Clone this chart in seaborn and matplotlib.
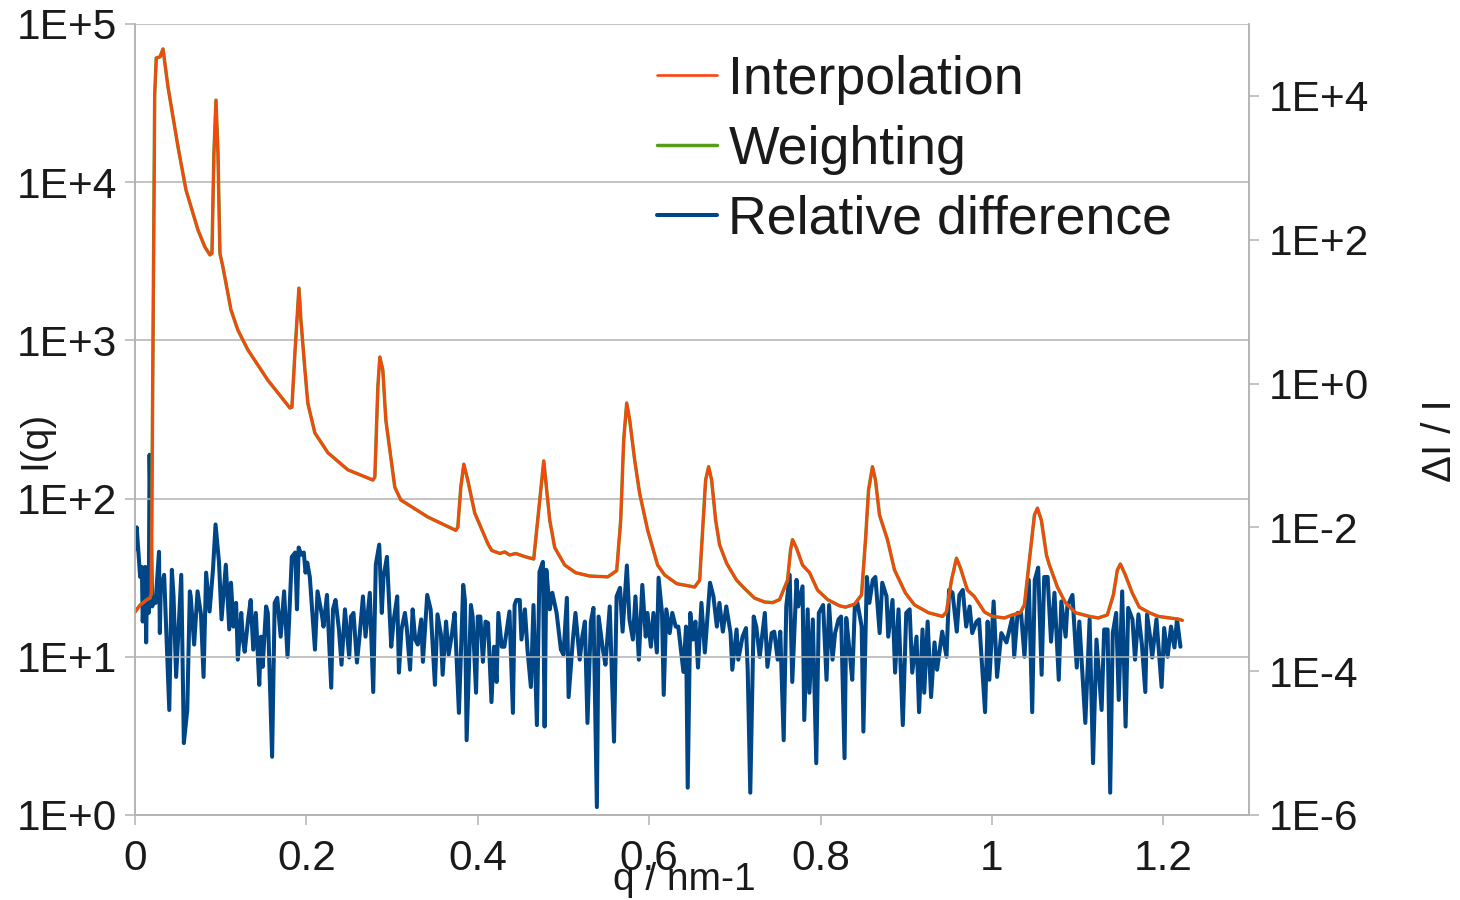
import numpy as np
import matplotlib
matplotlib.use("Agg")
import matplotlib.pyplot as plt
import seaborn as sns
from matplotlib.ticker import FixedLocator, FuncFormatter, NullLocator

sns.set_theme(style="white")
plt.rcParams['font.family'] = ['Liberation Sans', 'DejaVu Sans']

# ---------------- data ----------------
q_curve = [0.0000, 0.0058, 0.0140, 0.0175, 0.0190, 0.0212, 0.0230, 0.0248, 0.0292, 0.0327,
           0.0385, 0.0502, 0.0595, 0.0735, 0.0816, 0.0875, 0.0898, 0.0921, 0.0945, 0.0968,
           0.0991, 0.1026, 0.1120, 0.1201, 0.1318, 0.1551, 0.1808, 0.1831, 0.1866, 0.1913,
           0.1936, 0.1983, 0.2017, 0.2099, 0.2251, 0.2484, 0.2776, 0.2799, 0.2834, 0.2857,
           0.2892, 0.2927, 0.3032, 0.3102, 0.3417, 0.3743, 0.3767, 0.3802, 0.3837, 0.3883,
           0.3965, 0.4117, 0.4163, 0.4257, 0.4315, 0.4373, 0.4443, 0.4548, 0.4653, 0.4723,
           0.4770, 0.4805, 0.4840, 0.4898, 0.5015, 0.5143, 0.5306, 0.5516, 0.5621, 0.5668,
           0.5703, 0.5738, 0.5773, 0.5831, 0.5889, 0.5983, 0.6099, 0.6181, 0.6321, 0.6531,
           0.6589, 0.6624, 0.6659, 0.6694, 0.6729, 0.6776, 0.6822, 0.6904, 0.7020, 0.7114,
           0.7230, 0.7347, 0.7440, 0.7522, 0.7615, 0.7650, 0.7673, 0.7720, 0.7790, 0.7872,
           0.7965, 0.8082, 0.8222, 0.8292, 0.8397, 0.8478, 0.8525, 0.8560, 0.8606, 0.8641,
           0.8688, 0.8781, 0.8863, 0.8991, 0.9096, 0.9259, 0.9423, 0.9469, 0.9528, 0.9586,
           0.9633, 0.9714, 0.9796, 0.9913, 1.0006, 1.0146, 1.0239, 1.0332, 1.0379, 1.0437,
           1.0496, 1.0531, 1.0577, 1.0636, 1.0671, 1.0764, 1.0857, 1.0974, 1.1137, 1.1242,
           1.1347, 1.1417, 1.1464, 1.1499, 1.1557, 1.1638, 1.1720, 1.1837, 1.1942, 1.2070,
           1.2175, 1.2222]

I_interpolation = [19.2, 21.2, 23, 23.5, 25, 1400, 36000, 61000, 62000, 69500,
                   40000, 16700, 8930, 4990, 3890, 3470, 3550, 15300, 33000, 15300,
                   3550, 2910, 1560, 1160, 870, 560, 374, 378, 830, 2140,
                   1345, 650, 400, 260, 195, 152, 131, 137, 508, 785,
                   650, 314, 118, 98, 76.5, 63, 66, 118, 165, 131,
                   81, 52, 47, 45, 46, 44, 45, 43, 41.5, 98,
                   173, 113, 73, 49, 38, 34, 32.4, 32, 35, 73,
                   235, 402, 314, 175, 108, 63, 38, 32.9, 29, 27.6,
                   30.5, 63, 131, 159, 131, 73, 51, 39, 30.5, 27,
                   23.5, 22.2, 22, 23, 30.5, 47.3, 55, 48.6, 38, 34,
                   26.4, 23, 21, 20.6, 21.5, 24.6, 55, 113, 159, 131,
                   78.7, 55, 35.4, 25.3, 21.3, 19, 18, 19.2, 30.5, 42,
                   36.4, 26.4, 24, 19.2, 18, 17.6, 18.4, 19, 21.3, 40.9,
                   78.7, 87, 73, 44, 38, 27.6, 22, 19, 18, 17.6,
                   18.4, 24.6, 35.4, 38.6, 32.9, 25.3, 20.6, 19, 18, 17.6,
                   17.3, 17.0]

# Weighting is visually indistinguishable from Interpolation in the reference
I_weighting = [19.2, 21.2, 23, 23.5, 25, 1400, 36000, 61000, 62000, 69500,
               40000, 16700, 8930, 4990, 3890, 3470, 3550, 15300, 33000, 15300,
               3550, 2910, 1560, 1160, 870, 560, 374, 378, 830, 2140,
               1345, 650, 400, 260, 195, 152, 131, 137, 508, 785,
               650, 314, 118, 98, 76.5, 63, 66, 118, 165, 131,
               81, 52, 47, 45, 46, 44, 45, 43, 41.5, 98,
               173, 113, 73, 49, 38, 34, 32.4, 32, 35, 73,
               235, 402, 314, 175, 108, 63, 38, 32.9, 29, 27.6,
               30.5, 63, 131, 159, 131, 73, 51, 39, 30.5, 27,
               23.5, 22.2, 22, 23, 30.5, 47.3, 55, 48.6, 38, 34,
               26.4, 23, 21, 20.6, 21.5, 24.6, 55, 113, 159, 131,
               78.7, 55, 35.4, 25.3, 21.3, 19, 18, 19.2, 30.5, 42,
               36.4, 26.4, 24, 19.2, 18, 17.6, 18.4, 19, 21.3, 40.9,
               78.7, 87, 73, 44, 38, 27.6, 22, 19, 18, 17.6,
               18.4, 24.6, 35.4, 38.6, 32.9, 25.3, 20.6, 19, 18, 17.6,
               17.3, 17.0]

q_rel = [0.000, 0.002, 0.006, 0.008, 0.009, 0.012, 0.013, 0.014, 0.016, 0.017,
         0.020, 0.023, 0.024, 0.028, 0.029, 0.030, 0.034, 0.040, 0.043, 0.045,
         0.048, 0.054, 0.057, 0.061, 0.064, 0.065, 0.069, 0.073, 0.077, 0.080,
         0.083, 0.087, 0.091, 0.094, 0.098, 0.101, 0.106, 0.110, 0.112, 0.115,
         0.118, 0.120, 0.124, 0.126, 0.128, 0.132, 0.135, 0.138, 0.141, 0.145,
         0.147, 0.149, 0.153, 0.155, 0.160, 0.163, 0.166, 0.170, 0.174, 0.178,
         0.183, 0.187, 0.189, 0.191, 0.194, 0.197, 0.199, 0.201, 0.204, 0.210,
         0.213, 0.218, 0.220, 0.224, 0.229, 0.231, 0.234, 0.238, 0.241, 0.245,
         0.250, 0.252, 0.255, 0.259, 0.262, 0.266, 0.269, 0.274, 0.278, 0.281,
         0.285, 0.288, 0.290, 0.294, 0.299, 0.302, 0.306, 0.308, 0.311, 0.315,
         0.317, 0.321, 0.324, 0.327, 0.330, 0.334, 0.336, 0.341, 0.345, 0.350,
         0.353, 0.357, 0.359, 0.363, 0.366, 0.370, 0.373, 0.378, 0.383, 0.385,
         0.387, 0.392, 0.394, 0.398, 0.400, 0.403, 0.406, 0.409, 0.412, 0.416,
         0.419, 0.422, 0.424, 0.428, 0.431, 0.437, 0.441, 0.443, 0.445, 0.449,
         0.451, 0.455, 0.458, 0.462, 0.465, 0.469, 0.472, 0.476, 0.478, 0.480,
         0.484, 0.487, 0.492, 0.497, 0.500, 0.504, 0.506, 0.511, 0.514, 0.519,
         0.522, 0.525, 0.528, 0.532, 0.535, 0.539, 0.541, 0.546, 0.549, 0.554,
         0.559, 0.562, 0.566, 0.569, 0.574, 0.577, 0.581, 0.584, 0.588, 0.592,
         0.596, 0.598, 0.602, 0.605, 0.609, 0.611, 0.615, 0.617, 0.620, 0.624,
         0.627, 0.631, 0.634, 0.638, 0.640, 0.643, 0.645, 0.648, 0.651, 0.654,
         0.657, 0.661, 0.665, 0.671, 0.675, 0.679, 0.682, 0.686, 0.690, 0.695,
         0.697, 0.702, 0.704, 0.709, 0.713, 0.715, 0.718, 0.722, 0.725, 0.729,
         0.735, 0.738, 0.743, 0.746, 0.750, 0.753, 0.757, 0.760, 0.764, 0.767,
         0.772, 0.774, 0.779, 0.781, 0.785, 0.787, 0.791, 0.795, 0.798, 0.803,
         0.807, 0.810, 0.814, 0.817, 0.821, 0.824, 0.828, 0.830, 0.834, 0.837,
         0.840, 0.843, 0.848, 0.850, 0.854, 0.857, 0.861, 0.864, 0.869, 0.872,
         0.877, 0.879, 0.884, 0.887, 0.891, 0.896, 0.900, 0.904, 0.907, 0.912,
         0.915, 0.919, 0.921, 0.925, 0.929, 0.933, 0.936, 0.942, 0.947, 0.950,
         0.954, 0.959, 0.962, 0.966, 0.970, 0.974, 0.977, 0.982, 0.985, 0.989,
         0.992, 0.995, 0.997, 1.002, 1.006, 1.011, 1.017, 1.024, 1.026, 1.030,
         1.034, 1.038, 1.043, 1.047, 1.050, 1.054, 1.058, 1.061, 1.065, 1.069,
         1.073, 1.078, 1.081, 1.086, 1.088, 1.094, 1.099, 1.102, 1.109, 1.114,
         1.118, 1.122, 1.128, 1.131, 1.135, 1.138, 1.141, 1.145, 1.148, 1.152,
         1.156, 1.159, 1.164, 1.167, 1.171, 1.175, 1.179, 1.181, 1.185, 1.187,
         1.192, 1.198, 1.201, 1.205, 1.209, 1.213, 1.216, 1.220]

# relative difference, given as decade exponents (log10 of dI/I)
rel_exponent = [-2.31, -2.00, -2.69, -2.55, -3.31, -2.55, -3.60, -2.77, -3.19, -0.99,
                -3.10, -3.01, -3.05, -2.34, -3.47, -2.87, -2.66, -4.54, -2.59, -2.96,
                -4.08, -2.66, -5.00, -4.54, -2.89, -2.96, -3.63, -2.89, -3.21, -4.08,
                -2.63, -3.17, -2.59, -1.96, -2.48, -3.28, -2.52, -3.42, -2.77, -3.38,
                -3.05, -3.84, -3.19, -3.56, -3.73, -3.28, -3.01, -3.70, -3.19, -4.19,
                -3.52, -3.94, -3.10, -3.19, -5.19, -3.05, -2.98, -3.52, -2.89, -3.80,
                -2.41, -2.35, -3.14, -2.28, -2.38, -2.35, -2.63, -2.49, -2.69, -3.70,
                -2.89, -3.21, -3.38, -2.94, -4.23, -3.14, -3.01, -3.42, -3.91, -3.14,
                -3.81, -3.24, -3.19, -3.88, -3.52, -2.96, -3.52, -2.91, -4.29, -2.52,
                -2.24, -3.19, -2.69, -2.41, -3.66, -3.28, -2.96, -4.02, -3.42, -3.19,
                -3.38, -3.98, -3.14, -3.56, -3.63, -3.28, -3.87, -2.94, -3.14, -4.19,
                -3.21, -3.49, -4.05, -3.31, -3.77, -3.47, -3.19, -4.58, -2.80, -3.01,
                -4.96, -3.08, -3.24, -4.30, -3.24, -3.24, -3.87, -3.31, -3.33, -4.43,
                -3.66, -4.15, -3.19, -3.66, -3.66, -3.17, -4.58, -3.08, -3.01, -3.01,
                -3.56, -3.14, -3.70, -4.22, -3.08, -4.75, -2.62, -2.48, -4.77, -2.59,
                -3.14, -2.91, -3.19, -3.70, -3.77, -2.98, -4.36, -3.56, -3.19, -3.84,
                -3.52, -3.31, -4.72, -3.31, -3.12, -5.89, -3.24, -3.70, -3.91, -3.10,
                -4.98, -2.96, -2.84, -3.45, -2.53, -3.28, -3.56, -2.96, -3.84, -2.80,
                -3.52, -3.19, -3.66, -3.19, -3.74, -2.70, -3.19, -4.33, -3.14, -3.47,
                -3.19, -3.38, -3.38, -3.80, -4.01, -3.38, -5.62, -3.19, -3.56, -3.31,
                -3.95, -3.05, -3.74, -2.77, -2.96, -3.38, -3.05, -3.45, -3.10, -3.47,
                -3.98, -3.42, -3.84, -3.52, -3.40, -3.98, -5.69, -3.24, -3.38, -3.80,
                -3.19, -3.94, -3.47, -3.45, -3.84, -3.45, -4.96, -3.10, -2.66, -4.15,
                -2.73, -3.10, -2.82, -4.68, -3.14, -4.30, -3.28, -5.28, -3.19, -3.08,
                -4.12, -3.08, -3.84, -3.47, -3.28, -3.24, -5.21, -3.26, -3.74, -4.12,
                -3.10, -3.05, -3.38, -4.84, -2.69, -3.05, -2.73, -2.69, -3.47, -2.77,
                -2.96, -3.52, -3.01, -4.02, -3.14, -4.75, -3.19, -3.14, -4.02, -3.52,
                -4.57, -3.42, -4.30, -3.31, -4.36, -3.60, -3.98, -3.45, -3.80, -2.87,
                -2.91, -3.45, -2.94, -2.87, -3.38, -3.10, -3.47, -3.31, -3.28, -4.02,
                -4.57, -3.31, -4.12, -3.03, -4.08, -3.47, -3.60, -3.24, -3.80, -3.19,
                -3.19, -3.80, -2.73, -4.57, -2.73, -2.56, -4.05, -2.69, -2.69, -3.59,
                -2.91, -4.12, -3.03, -3.52, -3.10, -2.94, -3.95, -3.31, -4.72, -3.28,
                -5.28, -3.56, -4.54, -3.42, -3.42, -5.69, -3.47, -3.19, -4.40, -2.89,
                -4.77, -3.12, -3.28, -3.84, -3.21, -3.63, -4.29, -3.21, -3.56, -3.81,
                -3.28, -4.22, -3.40, -3.80, -3.38, -3.67, -3.28, -3.66]

rel_difference = 10.0 ** np.array(rel_exponent)

series_labels = ["Interpolation", "Weighting", "Relative difference"]
series_colors = ["#ff420e", "#579d1c", "#004586"]
x_ticks = [0, 0.2, 0.4, 0.6, 0.8, 1.0, 1.2]
left_ticks = [1e0, 1e1, 1e2, 1e3, 1e4, 1e5]
right_ticks = [1e-6, 1e-4, 1e-2, 1e0, 1e2, 1e4]

# ---------------- figure ----------------
fig = plt.figure(figsize=(14.6, 9.0), dpi=100)
ax = fig.add_axes([135 / 1460, 1 - 815 / 900, (1249 - 135) / 1460, (815 - 24) / 900])
ax2 = ax.twinx()

grey = "#b3b3b3"
txt = "#1a1a1a"

# relative difference on the secondary (right) axis, drawn beneath
sns.lineplot(x=q_rel, y=rel_difference, ax=ax2, color=series_colors[2], lw=2.9,
             estimator=None, sort=False, label=series_labels[2], legend=False)
# intensities on the primary axis
sns.lineplot(x=q_curve, y=I_weighting, ax=ax, color=series_colors[1], lw=2.5,
             estimator=None, sort=False, label=series_labels[1], legend=False)
sns.lineplot(x=q_curve, y=I_interpolation, ax=ax, color=series_colors[0], lw=1.9,
             estimator=None, sort=False, label=series_labels[0], legend=False)

ax.set_zorder(ax2.get_zorder() + 1)
ax.patch.set_visible(False)

ax.set_yscale("log")
ax2.set_yscale("log")
ax.set_xlim(0, 1.3)
ax.set_ylim(1, 1e5)
ax2.set_ylim(1e-6, 1e5)

fmt_sci = FuncFormatter(lambda v, p: "1E{:+d}".format(int(round(np.log10(v)))))
ax.yaxis.set_major_locator(FixedLocator(left_ticks))
ax.yaxis.set_minor_locator(NullLocator())
ax.yaxis.set_major_formatter(fmt_sci)
ax2.yaxis.set_major_locator(FixedLocator(right_ticks))
ax2.yaxis.set_minor_locator(NullLocator())
ax2.yaxis.set_major_formatter(fmt_sci)
ax.xaxis.set_major_locator(FixedLocator(x_ticks))
ax.xaxis.set_major_formatter(FuncFormatter(lambda v, p: "{:g}".format(round(v, 1))))

ax.grid(axis="y", color=grey, lw=1.1)
ax.grid(axis="x", visible=False)
ax2.grid(False)

for a in (ax, ax2):
    for s in a.spines.values():
        s.set_color(grey)
        s.set_linewidth(1.1)
    a.spines["top"].set_visible(False)

ts = 30.5
ax.tick_params(axis="both", which="major", direction="out", length=7, width=1.1,
               color=grey, labelsize=ts, labelcolor=txt, pad=6)
ax.tick_params(axis="x", pad=10.5, bottom=True)
ax.tick_params(axis="y", left=True)
ax2.tick_params(axis="y", which="major", direction="out", length=7, width=1.1,
                color=grey, labelsize=ts, labelcolor=txt, pad=7.5, right=True)

ax.set_xlabel("q / nm-1", fontsize=28, color=txt)
ax.xaxis.set_label_coords(0.493, -0.095)
ax.xaxis.label.set_va("baseline")
ax.set_ylabel("I(q)", fontsize=28, color=txt)
ax.yaxis.set_label_coords(-0.089, 0.474)
ax.yaxis.label.set_va("center")
ax2.set_ylabel("ΔI / I", fontsize=29, color=txt, rotation=90)
ax2.yaxis.set_label_coords(1.1715, 0.473)
ax2.yaxis.label.set_va("center")

handles = [ax.get_lines()[1], ax.get_lines()[0], ax2.get_lines()[0]]
leg = ax.legend(handles, series_labels, loc="upper left",
                bbox_to_anchor=(0.4686, 0.961), frameon=False, fontsize=38.6,
                handlelength=1.11, handletextpad=0.22, labelspacing=0.37,
                borderpad=0, borderaxespad=0)
for t in leg.get_texts():
    t.set_color(txt)

fig.savefig("out.png", dpi=100)
